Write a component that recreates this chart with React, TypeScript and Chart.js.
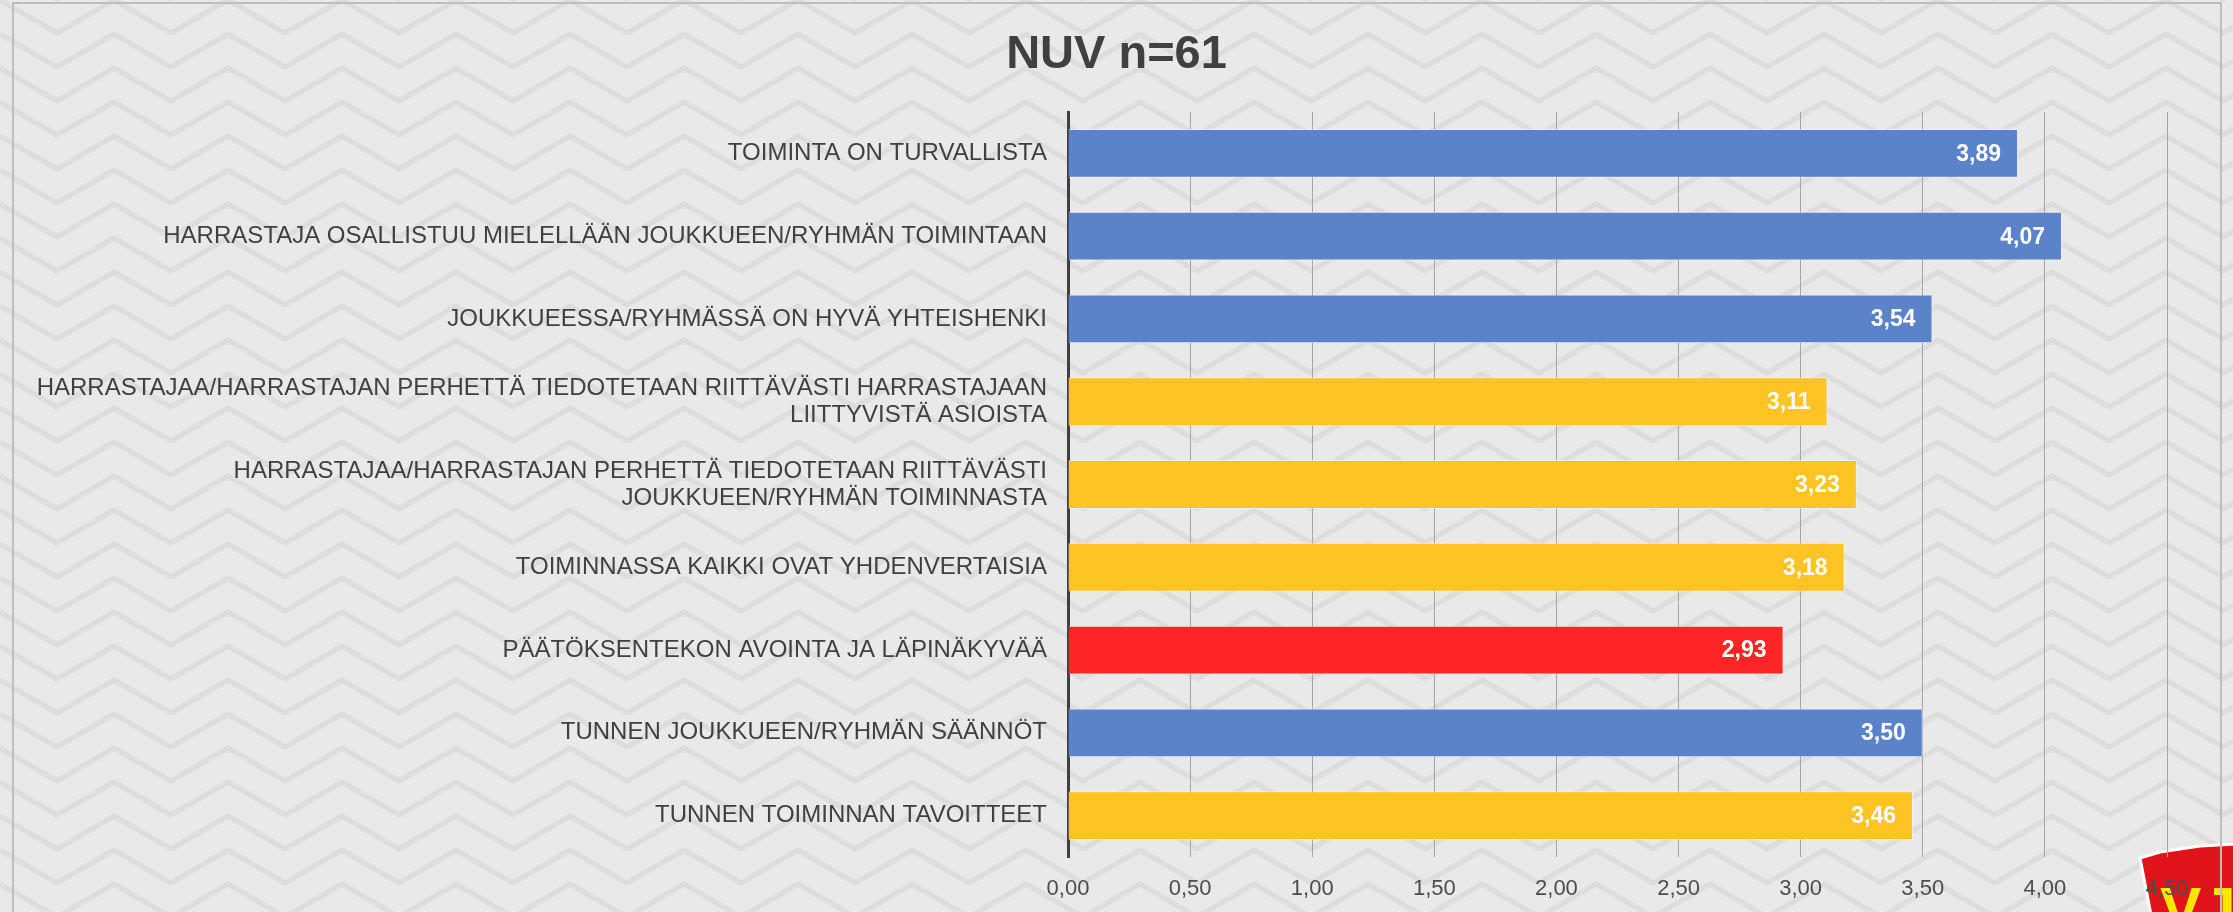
import React, { useEffect, useRef } from "react";
import { Chart, registerables } from "chart.js";

Chart.register(...registerables);

const categories: (string | string[])[] = [
  "TOIMINTA ON TURVALLISTA",
  "HARRASTAJA OSALLISTUU MIELELLÄÄN JOUKKUEEN/RYHMÄN TOIMINTAAN",
  "JOUKKUEESSA/RYHMÄSSÄ ON HYVÄ YHTEISHENKI",
  ["HARRASTAJAA/HARRASTAJAN PERHETTÄ TIEDOTETAAN RIITTÄVÄSTI HARRASTAJAAN", "LIITTYVISTÄ ASIOISTA"],
  ["HARRASTAJAA/HARRASTAJAN PERHETTÄ TIEDOTETAAN RIITTÄVÄSTI", "JOUKKUEEN/RYHMÄN TOIMINNASTA"],
  "TOIMINNASSA KAIKKI OVAT YHDENVERTAISIA",
  "PÄÄTÖKSENTEKON AVOINTA JA LÄPINÄKYVÄÄ",
  "TUNNEN JOUKKUEEN/RYHMÄN SÄÄNNÖT",
  "TUNNEN TOIMINNAN TAVOITTEET",
];

const values: number[] = [3.89, 4.07, 3.54, 3.11, 3.23, 3.18, 2.93, 3.5, 3.46];

const barColors: string[] = [
  "#5B83C9",
  "#5B83C9",
  "#5B83C9",
  "#FDC424",
  "#FDC424",
  "#FDC424",
  "#FF2426",
  "#5B83C9",
  "#FDC424",
];

const titleText = "NUV n=61";

const fmt = (v: number) => v.toFixed(2).replace(".", ",");

const FONT = '"Liberation Sans", Arial, sans-serif';

const backgroundPlugin = {
  id: "bgPlugin",
  beforeDraw(chart: any) {
    const { ctx, width, height } = chart;
    ctx.save();
    ctx.fillStyle = "#E9E9E9";
    ctx.fillRect(0, 0, width, height);
    // subtle herringbone pattern
    ctx.strokeStyle = "rgba(210,210,210,0.5)";
    ctx.lineWidth = 5;
    ctx.lineJoin = "round";
    const dx = 57;
    const amp = 33;
    const gap = 34;
    for (let r = -3; r * gap < height + 60; r++) {
      const y0 = r * gap;
      ctx.beginPath();
      for (let c = 0; c * dx < width + dx; c++) {
        const x = c * dx;
        const y = y0 + (c % 2 === 0 ? 0 : amp);
        if (c === 0) ctx.moveTo(x, y);
        else ctx.lineTo(x, y);
      }
      ctx.stroke();
    }
    // logo (drawn under the axis labels)
    ctx.beginPath();
    ctx.moveTo(2140, 858);
    ctx.lineTo(2160, 852);
    ctx.lineTo(2200, 846);
    ctx.lineTo(2240, 844);
    ctx.lineTo(2240, 920);
    ctx.lineTo(2152, 920);
    ctx.closePath();
    ctx.fillStyle = "#E2141B";
    ctx.fill();
    ctx.lineWidth = 3;
    ctx.strokeStyle = "#FFFFFF";
    ctx.stroke();
    ctx.font = `bold 62px ${FONT}`;
    ctx.fillStyle = "#FFE600";
    ctx.textAlign = "left";
    ctx.textBaseline = "alphabetic";
    ctx.fillText("VJ", 2160, 930);
    ctx.restore();
  },
};

const labelPlugin = {
  id: "valueLabels",
  afterDatasetsDraw(chart: any) {
    const { ctx } = chart;
    const meta = chart.getDatasetMeta(0);
    ctx.save();
    ctx.font = `bold 23px ${FONT}`;
    ctx.fillStyle = "#FFFFFF";
    ctx.textAlign = "right";
    ctx.textBaseline = "middle";
    meta.data.forEach((el: any, i: number) => {
      ctx.fillText(fmt(values[i]), el.x - 17, el.y + 1);
    });
    ctx.restore();
  },
};

const framePlugin = {
  id: "framePlugin",
  afterDraw(chart: any) {
    const { ctx, height } = chart;
    ctx.save();
    ctx.strokeStyle = "#BDBDBD";
    ctx.lineWidth = 2;
    ctx.strokeRect(13, 3, 2208, height + 20);
    ctx.restore();
  },
};

export default function App() {
  const canvasRef = useRef<HTMLCanvasElement | null>(null);

  useEffect(() => {
    document.body.style.margin = "0";
    const canvas = canvasRef.current;
    if (!canvas) return;
    const chart = new Chart(canvas, {
      type: "bar",
      data: {
        labels: categories,
        datasets: [
          {
            data: values,
            backgroundColor: barColors,
            borderColor: "rgba(255,255,255,0.45)",
            borderWidth: 1,
            categoryPercentage: 1,
            barPercentage: 0.59,
          },
        ],
      },
      options: {
        indexAxis: "y",
        animation: false,
        responsive: false,
        maintainAspectRatio: false,
        layout: { padding: { top: 0, right: 0, bottom: 0, left: 0 } },
        plugins: {
          legend: { display: false },
          tooltip: { enabled: false },
          title: {
            display: true,
            text: titleText,
            color: "#404040",
            font: { family: FONT, size: 47, weight: "bold", lineHeight: 1.2 },
            padding: { top: 27, bottom: 28.6 },
          },
        },
        scales: {
          x: {
            min: 0,
            max: 4.5,
            afterFit(scale: any) {
              scale.height = 55;
            },
            ticks: {
              stepSize: 0.5,
              color: "#4D4D4D",
              padding: 19,
              font: { family: FONT, size: 22 },
              callback: (v: any) => fmt(Number(v)),
            },
            grid: {
              color: "#A6A6A6",
              lineWidth: 1,
              drawTicks: false,
            },
            border: { display: false },
          },
          y: {
            afterFit(scale: any) {
              scale.width = 1068;
            },
            ticks: {
              color: "#404040",
              padding: 21,
              font: { family: FONT, size: 24, lineHeight: 1.12 },
            },
            grid: { display: false, drawTicks: false },
            border: { display: true, color: "#404040", width: 3 },
          },
          yRight: {
            type: "linear",
            position: "right",
            afterFit(scale: any) {
              scale.width = 66;
            },
            ticks: { display: false },
            grid: { display: false, drawTicks: false },
            border: { display: false },
          },
        },
      },
      plugins: [backgroundPlugin, labelPlugin, framePlugin],
    });
    return () => chart.destroy();
  }, []);

  return <canvas ref={canvasRef} width={2233} height={912} style={{ display: "block" }} />;
}
